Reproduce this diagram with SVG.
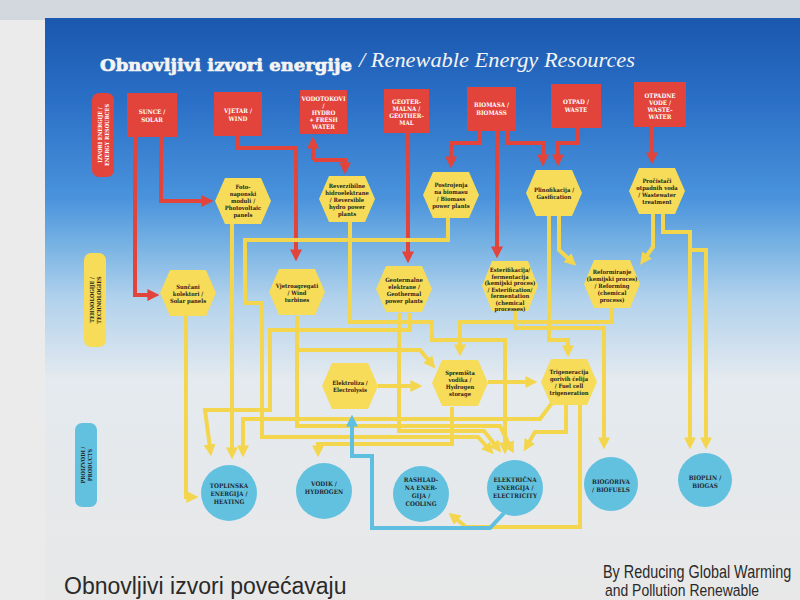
<svg xmlns="http://www.w3.org/2000/svg" width="800" height="600" viewBox="0 0 800 600">
<defs>
<linearGradient id="bg" x1="0" y1="0" x2="0" y2="1">
<stop offset="0" stop-color="#1b57ae"/>
<stop offset="0.14" stop-color="#2a6fc6"/>
<stop offset="0.31" stop-color="#4a93dc"/>
<stop offset="0.40" stop-color="#7db6e4"/>
<stop offset="0.48" stop-color="#b0d1ec"/>
<stop offset="0.62" stop-color="#e4eaef"/>
<stop offset="1" stop-color="#e8e8e8"/>
</linearGradient>
<marker id="ar" viewBox="0 0 10 10" refX="3" refY="5" markerWidth="3" markerHeight="3" orient="auto"><path d="M0,0 L10,5 L0,10 z" fill="#e2443b"/></marker>
<marker id="ay" viewBox="0 0 10 10" refX="3" refY="5" markerWidth="3" markerHeight="3" orient="auto"><path d="M0,0 L10,5 L0,10 z" fill="#f4d64e"/></marker>
<marker id="ab" viewBox="0 0 10 10" refX="3" refY="5" markerWidth="3" markerHeight="3" orient="auto"><path d="M0,0 L10,5 L0,10 z" fill="#5fbfe0"/></marker>
<style>
.src{fill:#e2443b}
.hex{fill:#f6dc58}
.prd{fill:#63c1e0}
.r{fill:none;stroke:#e2443b;stroke-width:4;marker-end:url(#ar)}
.y{fill:none;stroke:#f4d64e;stroke-width:4;marker-end:url(#ay)}
.b{fill:none;stroke:#5fbfe0;stroke-width:4;marker-end:url(#ab)}
.ts{font-family:"DejaVu Serif Condensed","DejaVu Serif",serif;font-weight:bold;font-size:6.2px;fill:#ffffff;text-anchor:middle}
.th{font-family:"DejaVu Serif Condensed","DejaVu Serif",serif;font-weight:bold;font-size:5.8px;fill:#2b2620;text-anchor:middle}
.tp{font-family:"DejaVu Serif Condensed","DejaVu Serif",serif;font-weight:bold;font-size:6.3px;fill:#1e2a30;text-anchor:middle}
.tl{font-family:"DejaVu Serif Condensed","DejaVu Serif",serif;font-weight:bold;font-size:5.6px;text-anchor:middle}
.ft{font-family:"Liberation Sans",sans-serif;fill:#2a2a2a}
</style>
</defs>
<rect width="800" height="600" fill="#ebebeb"/>
<rect x="0" y="0" width="800" height="20" fill="#d3d8de"/>
<rect x="45" y="18" width="755" height="582" fill="url(#bg)"/>

<g id="title">
<text x="100" y="71" font-family="DejaVu Serif" font-weight="bold" font-size="17" fill="#f4f4f4" stroke="#f4f4f4" stroke-width="0.7" textLength="252" lengthAdjust="spacingAndGlyphs">Obnovljivi izvori energije</text>
<text x="359" y="67" font-family="Liberation Serif" font-style="italic" font-size="20" fill="#f4f4f4" textLength="276" lengthAdjust="spacingAndGlyphs">/ Renewable Energy Resources</text>
</g>

<g id="label-sources"><rect x="92" y="93" width="22" height="84" rx="7" fill="#e2443b"/>
<text class="tl" fill="#ffffff" transform="translate(102,135) rotate(-90)">IZVORI ENERGIJE /</text>
<text class="tl" fill="#ffffff" transform="translate(109,135) rotate(-90)">ENERGY RESOURCES</text></g>
<g id="label-tech"><rect x="84" y="253" width="22" height="94" rx="7" fill="#f6dc58"/>
<text class="tl" fill="#2b2620" transform="translate(94,300) rotate(-90)">TEHNOLOGIJE /</text>
<text class="tl" fill="#2b2620" transform="translate(101,300) rotate(-90)">TECHNOLOGIES</text></g>
<g id="label-products"><rect x="75" y="423" width="22" height="84" rx="7" fill="#63c1e0"/>
<text class="tl" fill="#1e2a30" transform="translate(85,465) rotate(-90)">PROIZVODI /</text>
<text class="tl" fill="#1e2a30" transform="translate(92,465) rotate(-90)">PRODUCTS</text></g>

<g id="connectors">
<g id="red">
<path class="r" d="M161,137 V201 H205"/>
<path class="r" d="M135,137 V295 H151"/>
<path class="r" d="M237,136 V148 H296 V253"/>
<path class="r" d="M313,160 V145"/>
<path class="r" d="M313,160 H345 V166"/>
<path class="r" d="M408,133 V255"/>
<path class="r" d="M480,131 V143 H451 V160"/>
<path class="r" d="M497,131 V250"/>
<path class="r" d="M507,131 V143 H543 V158"/>
<path class="r" d="M578,128 V143 H558 V158"/>
<path class="r" d="M652,127 V156"/>
</g>
<g id="yellow">
<path class="y" d="M186,316 V497 H190"/>
<path class="y" d="M232,224 V451"/>
<path class="y" d="M448,218 V240 H245 V303 H262 V437 H478 L488,448"/>
<path class="y" d="M350,222 V322 H432 V340 H505 V446"/>
<path class="y" d="M399,313 V431 H484 L496,446"/>
<path class="y" d="M410,313 V330 H270 V410 H205 L210,448"/>
<path class="y" d="M297,316 V426 H500 L510,446"/>
<path class="y" d="M297,350 H420 L430,362"/>
<path class="y" d="M612,308 V322 H460 V348"/>
<path class="y" d="M559,216 V250 L570,260"/>
<path class="y" d="M653,214 V247 L645,258"/>
<path class="y" d="M549,216 V340 H568 V349"/>
<path class="y" d="M515,311 V328 H604 V441"/>
<path class="y" d="M663,214 V232 H690 V441"/>
<path class="y" d="M690,250 H706 V441"/>
<path class="y" d="M552,403 L540,419 H243 V449"/>
<path class="y" d="M566,405 V432 H535 L528,444"/>
<path class="y" d="M580,405 V527 H466 L455,518"/>
<path class="y" d="M452,407 V444 H318 V449"/>
<path class="y" d="M378,386 H414"/>
<path class="y" d="M488,382 H529"/>
</g>
<g id="blue">
<path class="b" d="M505,512 L490,528 H372 V456 H352 V423"/>
</g>
</g>

<g id="src-solar"><rect class="src" x="127" y="93" width="50" height="44"/><text class="ts" x="152" y="114">SUNCE /</text><text class="ts" x="152" y="122">SOLAR</text></g>
<g id="src-wind"><rect class="src" x="214" y="92" width="48" height="44"/><text class="ts" x="238" y="113">VJETAR /</text><text class="ts" x="238" y="121">WIND</text></g>
<g id="src-hydro"><rect class="src" x="300" y="90" width="47" height="44"/><text class="ts" x="323.5" y="101">VODOTOKOVI</text><text class="ts" x="323.5" y="108">/</text><text class="ts" x="323.5" y="115">HYDRO</text><text class="ts" x="323.5" y="122">+ FRESH</text><text class="ts" x="323.5" y="129">WATER</text></g>
<g id="src-geo"><rect class="src" x="384" y="89" width="45" height="44"/><text class="ts" x="406.5" y="104">GEOTER-</text><text class="ts" x="406.5" y="111">MALNA /</text><text class="ts" x="406.5" y="118">GEOTHER-</text><text class="ts" x="406.5" y="125">MAL</text></g>
<g id="src-biomass"><rect class="src" x="467" y="87" width="49" height="44"/><text class="ts" x="491.5" y="107">BIOMASA /</text><text class="ts" x="491.5" y="115">BIOMASS</text></g>
<g id="src-waste"><rect class="src" x="551" y="84" width="50" height="44"/><text class="ts" x="576" y="104">OTPAD /</text><text class="ts" x="576" y="112">WASTE</text></g>
<g id="src-wastewater"><rect class="src" x="634" y="82" width="52" height="45"/><text class="ts" x="660" y="98">OTPADNE</text><text class="ts" x="660" y="105">VODE /</text><text class="ts" x="660" y="112">WASTE-</text><text class="ts" x="660" y="119">WATER</text></g>

<g id="tech-pv"><polygon class="hex" points="215,201 225,178 261,178 271,201 261,224 225,224"/><text class="th" x="243" y="189">Foto-</text><text class="th" x="243" y="196">naponski</text><text class="th" x="243" y="203">moduli /</text><text class="th" x="243" y="210">Photovoltaic</text><text class="th" x="243" y="217">panels</text></g>
<g id="tech-reversible"><polygon class="hex" points="319,199 329,176 365,176 375,199 365,222 329,222"/><text class="th" x="347" y="188">Reverzibilne</text><text class="th" x="347" y="195">hidroelektrane</text><text class="th" x="347" y="202">/ Reversible</text><text class="th" x="347" y="209">hydro power</text><text class="th" x="347" y="216">plants</text></g>
<g id="tech-biomassplants"><polygon class="hex" points="423,195 433,172 469,172 479,195 469,218 433,218"/><text class="th" x="451" y="187">Postrojenja</text><text class="th" x="451" y="194">na biomasu</text><text class="th" x="451" y="201">/ Biomass</text><text class="th" x="451" y="208">power plants</text></g>
<g id="tech-gasification"><polygon class="hex" points="526,193 536,170 572,170 582,193 572,216 536,216"/><text class="th" x="554" y="192">Plinofikacija /</text><text class="th" x="554" y="199">Gasification</text></g>
<g id="tech-wastewater"><polygon class="hex" points="629,191 639,168 675,168 685,191 675,214 639,214"/><text class="th" x="657" y="183">Pročistači</text><text class="th" x="657" y="190">otpadnih voda</text><text class="th" x="657" y="197">/ Wastewater</text><text class="th" x="657" y="204">treatment</text></g>
<g id="tech-solarpanels"><polygon class="hex" points="160,293 170,270 206,270 216,293 206,316 170,316"/><text class="th" x="188" y="289">Sunčani</text><text class="th" x="188" y="296">kolektori /</text><text class="th" x="188" y="303">Solar panels</text></g>
<g id="tech-wind"><polygon class="hex" points="269,292 279,269 315,269 325,292 315,315 279,315"/><text class="th" x="297" y="288">Vjetroagregati</text><text class="th" x="297" y="295">/ Wind</text><text class="th" x="297" y="302">turbines</text></g>
<g id="tech-geothermal"><polygon class="hex" points="376,289 386,266 422,266 432,289 422,312 386,312"/><text class="th" x="404" y="282">Geotermalne</text><text class="th" x="404" y="289">elektrane /</text><text class="th" x="404" y="296">Geothermal</text><text class="th" x="404" y="303">power plants</text></g>
<g id="tech-esterification"><polygon class="hex" points="482,286 492,261 528,261 538,286 528,311 492,311"/><text class="th" x="510" y="272" font-size="5.2">Esterifikacija/</text><text class="th" x="510" y="278.5" font-size="5.2">fermentacija</text><text class="th" x="510" y="285" font-size="5.2">(kemijski proces)</text><text class="th" x="510" y="291.5" font-size="5.2">/ Esterification/</text><text class="th" x="510" y="298" font-size="5.2">fermentation</text><text class="th" x="510" y="304.5" font-size="5.2">(chemical</text><text class="th" x="510" y="311" font-size="5.2">processes)</text></g>
<g id="tech-reforming"><polygon class="hex" points="584,284 594,260 630,260 640,284 630,308 594,308"/><text class="th" x="612" y="274" font-size="5.4">Reformiranje</text><text class="th" x="612" y="281" font-size="5.4">(kemijski proces)</text><text class="th" x="612" y="288" font-size="5.4">/ Reforming</text><text class="th" x="612" y="295" font-size="5.4">(chemical</text><text class="th" x="612" y="302" font-size="5.4">process)</text></g>
<g id="tech-electrolysis"><polygon class="hex" points="322,386 332,363 368,363 378,386 368,409 332,409"/><text class="th" x="350" y="385">Elektroliza /</text><text class="th" x="350" y="392">Electrolysis</text></g>
<g id="tech-h2storage"><polygon class="hex" points="432,383 442,360 478,360 488,383 478,406 442,406"/><text class="th" x="460" y="375">Spremišta</text><text class="th" x="460" y="382">vodika /</text><text class="th" x="460" y="389">Hydrogen</text><text class="th" x="460" y="396">storage</text></g>
<g id="tech-trigeneration"><polygon class="hex" points="541,382 551,359 587,359 597,382 587,405 551,405"/><text class="th" x="569" y="374">Trigeneracija</text><text class="th" x="569" y="381">gorivih ćelija</text><text class="th" x="569" y="388">/ Fuel cell</text><text class="th" x="569" y="395">trigeneration</text></g>

<g id="prod-heating"><circle class="prd" cx="229" cy="493" r="28"/><text class="tp" x="229" y="488">TOPLINSKA</text><text class="tp" x="229" y="496">ENERGIJA /</text><text class="tp" x="229" y="504">HEATING</text></g>
<g id="prod-hydrogen"><circle class="prd" cx="324" cy="491" r="28"/><text class="tp" x="324" y="486">VODIK /</text><text class="tp" x="324" y="494">HYDROGEN</text></g>
<g id="prod-cooling"><circle class="prd" cx="421" cy="494" r="28"/><text class="tp" x="421" y="482">RASHLAD-</text><text class="tp" x="421" y="490">NA ENER-</text><text class="tp" x="421" y="498">GIJA /</text><text class="tp" x="421" y="506">COOLING</text></g>
<g id="prod-electricity"><circle class="prd" cx="515" cy="488" r="28"/><text class="tp" x="515" y="482">ELEKTRIČNA</text><text class="tp" x="515" y="490">ENERGIJA /</text><text class="tp" x="515" y="498">ELECTRICITY</text></g>
<g id="prod-biofuels"><circle class="prd" cx="611" cy="484" r="27"/><text class="tp" x="611" y="484">BIOGORIVA</text><text class="tp" x="611" y="492">/ BIOFUELS</text></g>
<g id="prod-biogas"><circle class="prd" cx="705" cy="480" r="27"/><text class="tp" x="705" y="480">BIOPLIN /</text><text class="tp" x="705" y="488">BIOGAS</text></g>

<g id="footer">
<text class="ft" x="64" y="594" font-size="23">Obnovljivi izvori povećavaju</text>
<text class="ft" transform="translate(603,578) scale(0.8,1)" font-size="18">By Reducing Global Warming</text>
<text class="ft" transform="translate(605,596) scale(0.82,1)" font-size="17">and Pollution Renewable</text>
</g>
</svg>
